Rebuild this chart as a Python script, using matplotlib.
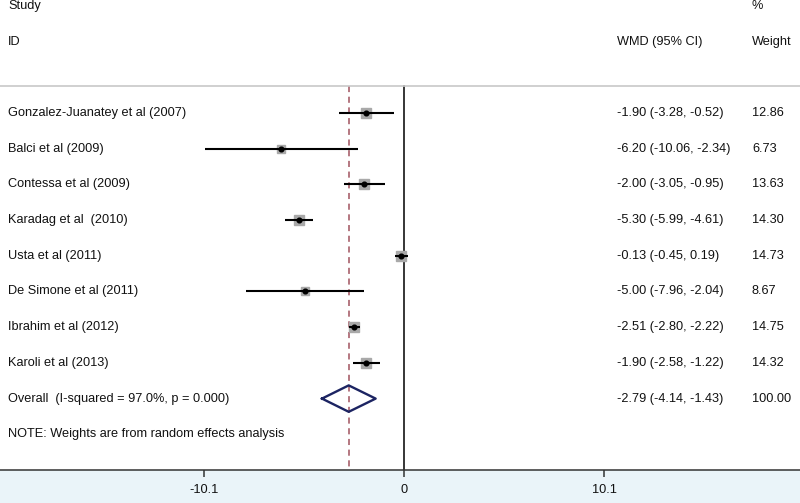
import matplotlib
matplotlib.use("Agg")
import matplotlib.pyplot as plt
import matplotlib.transforms as mtransforms
import numpy as np

# study data
studies = ["Gonzalez-Juanatey et al (2007)", "Balci et al (2009)",
           "Contessa et al (2009)", "Karadag et al  (2010)",
           "Usta et al (2011)", "De Simone et al (2011)",
           "Ibrahim et al (2012)", "Karoli et al (2013)"]
wmd = [-1.90, -6.20, -2.00, -5.30, -0.13, -5.00, -2.51, -1.90]
ci_low = [-3.28, -10.06, -3.05, -5.99, -0.45, -7.96, -2.80, -2.58]
ci_high = [-0.52, -2.34, -0.95, -4.61, 0.19, -2.04, -2.22, -1.22]
weights = [12.86, 6.73, 13.63, 14.30, 14.73, 8.67, 14.75, 14.32]

overall_label = "Overall  (I-squared = 97.0%, p = 0.000)"
overall_est = -2.79
overall_low = -4.14
overall_high = -1.43
overall_weight = 100.00

tick_vals = [-10.1, 0, 10.1]
tick_labels = ["-10.1", "0", "10.1"]

FONT = "Liberation Sans"
FS = 9.2

fig = plt.figure(figsize=(8.0, 5.03), dpi=100)
fig.patch.set_facecolor("#eaf4f9")
ax = fig.add_axes([0, 33 / 503, 1, 470 / 503])
ax.set_facecolor("white")

ax.set_xlim(-20.4, 20.0)
ax.set_ylim(10.0, -3.165)

n = len(studies)
rows = np.arange(n)
top = -0.756

# reference lines
ax.plot([0, 0], [top, 10.0], color="black", lw=1.1, zorder=1)
ax.plot([overall_est, overall_est], [top, 10.0], color="#a0525e", lw=1.1,
        ls=(0, (4, 3)), zorder=1)
ax.axhline(top, color="#c8c8c8", lw=1.2, zorder=1)

# study markers
for i in range(n):
    ax.plot([ci_low[i], ci_high[i]], [rows[i], rows[i]], color="black",
            lw=1.5, zorder=3, solid_capstyle="butt")
    ax.plot(wmd[i], rows[i], marker="s", ls="none",
            ms=2.0 * np.sqrt(weights[i]), color="#a9a9a9", mec="#a9a9a9",
            zorder=2)
    ax.plot(wmd[i], rows[i], marker="o", ls="none", ms=3.4, color="black",
            zorder=4)

# overall diamond
oy = n
ax.plot([overall_low, overall_est, overall_high, overall_est, overall_low],
        [oy, oy - 0.37, oy, oy + 0.37, oy], color="#1c2462", lw=1.7,
        zorder=3)

# text columns
trans = mtransforms.blended_transform_factory(ax.transAxes, ax.transData)
txt = dict(transform=trans, fontsize=FS, family=FONT, va="center",
           color="#111111")
ax.text(8 / 800, -3, "Study", **txt)
ax.text(8 / 800, -2, "ID", **txt)
ax.text(617 / 800, -2, "WMD (95% CI)", **txt)
ax.text(752 / 800, -3, "%", **txt)
ax.text(752 / 800, -2, "Weight", **txt)

for i in range(n):
    ax.text(8 / 800, rows[i], studies[i], **txt)
    ax.text(617 / 800, rows[i],
            f"{wmd[i]:.2f} ({ci_low[i]:.2f}, {ci_high[i]:.2f})", **txt)
    ax.text(752 / 800, rows[i], f"{weights[i]:.2f}", **txt)

ax.text(8 / 800, oy, overall_label, **txt)
ax.text(617 / 800, oy,
        f"{overall_est:.2f} ({overall_low:.2f}, {overall_high:.2f})", **txt)
ax.text(752 / 800, oy, f"{overall_weight:.2f}", **txt)
ax.text(8 / 800, n + 1, "NOTE: Weights are from random effects analysis",
        **txt)

# axis
for side in ["top", "left", "right"]:
    ax.spines[side].set_visible(False)
ax.spines["bottom"].set_color("#333333")
ax.spines["bottom"].set_linewidth(1.1)
ax.set_yticks([])
ax.set_xticks(tick_vals)
ax.set_xticklabels(tick_labels, family=FONT, fontsize=FS, color="#111111")
ax.tick_params(axis="x", direction="out", length=5, width=1.1, pad=5,
               color="#333333")

fig.savefig("out.png", dpi=100, facecolor=fig.get_facecolor())
